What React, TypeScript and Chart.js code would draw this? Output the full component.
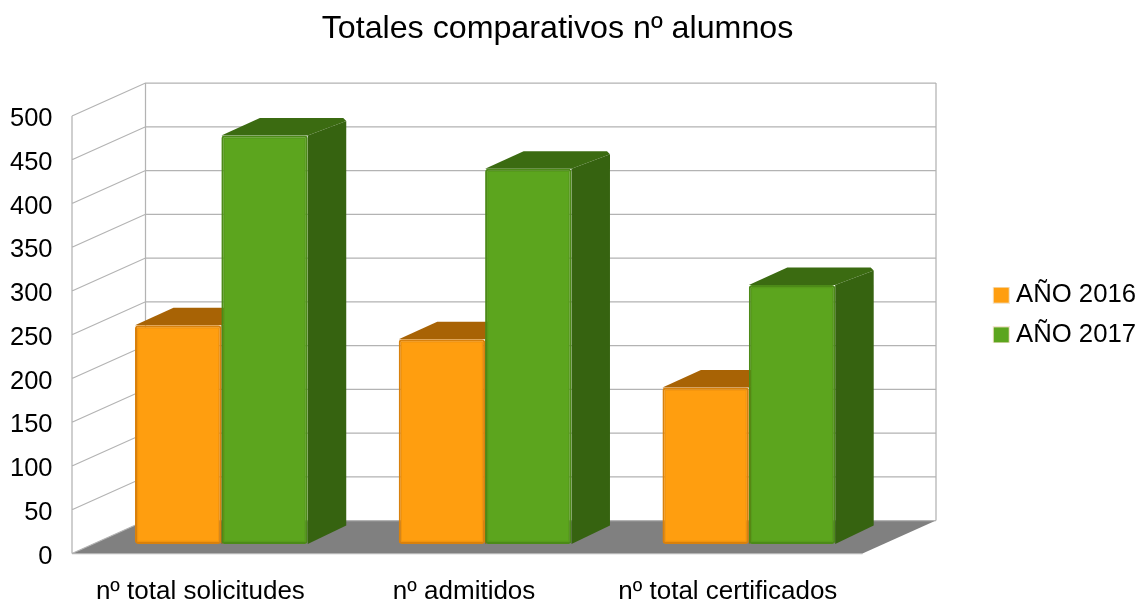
import React, { useEffect, useRef } from "react";
import { Chart, registerables } from "chart.js";

Chart.register(...registerables);

const categories = ["nº total solicitudes", "nº admitidos", "nº total certificados"];
const seriesNames = ["AÑO 2016", "AÑO 2017"];
const values2016 = [250, 234, 179];
const values2017 = [467, 429, 296];
const frontColors = ["#ff9e0f", "#5ca51e"];
const edgeColors = ["#d9810c", "#4c8a18"];
const topColors = ["#a86305", "#3b6b11"];
const sideColors = ["#a05e05", "#366310"];
const FONT = "'Liberation Sans', Arial, sans-serif";

const DEPTH_X = 73.5;
const DEPTH_Y = -33;
const BAR_SHIFT_X = 24;
const BAR_SHIFT_Y = -9.5;
const BAR_DEPTH_X = 38.5;
const BAR_DEPTH_Y = -17.5;
const WALL_LEFT = 72;
const WALL_RIGHT = 862.5;

function swatch(color: string) {
  const c = document.createElement("canvas");
  c.width = 21;
  c.height = 17;
  const g = c.getContext("2d")!;
  g.fillStyle = "#f4e6d0";
  g.fillRect(4, 0, 17, 17);
  g.fillStyle = color;
  g.fillRect(5, 1, 15, 15);
  return c;
}

function poly(ctx: CanvasRenderingContext2D, pts: number[][], fill: string) {
  ctx.beginPath();
  pts.forEach(([x, y], i) => (i ? ctx.lineTo(x, y) : ctx.moveTo(x, y)));
  ctx.closePath();
  ctx.fillStyle = fill;
  ctx.fill();
}

const scene3d = {
  id: "scene3d",
  beforeDatasetsDraw(chart: any) {
    const ctx: CanvasRenderingContext2D = chart.ctx;
    const y = chart.scales.y;
    const y0 = y.getPixelForValue(0);
    ctx.save();
    // floor
    poly(
      ctx,
      [
        [WALL_LEFT, y0],
        [WALL_RIGHT, y0],
        [WALL_RIGHT + DEPTH_X, y0 + DEPTH_Y],
        [WALL_LEFT + DEPTH_X, y0 + DEPTH_Y],
      ],
      "#808080"
    );
    // walls
    ctx.strokeStyle = "#b3b3b3";
    ctx.lineWidth = 1.25;
    ctx.beginPath();
    y.ticks.forEach((t: any) => {
      const py = y.getPixelForValue(t.value);
      ctx.moveTo(WALL_LEFT, py);
      ctx.lineTo(WALL_LEFT + DEPTH_X, py + DEPTH_Y);
      ctx.lineTo(WALL_RIGHT + DEPTH_X, py + DEPTH_Y);
    });
    const top = y.getPixelForValue(500);
    ctx.moveTo(WALL_LEFT, y0);
    ctx.lineTo(WALL_LEFT, top);
    ctx.moveTo(WALL_LEFT + DEPTH_X, y0 + DEPTH_Y);
    ctx.lineTo(WALL_LEFT + DEPTH_X, top + DEPTH_Y);
    ctx.moveTo(WALL_RIGHT + DEPTH_X, y0 + DEPTH_Y);
    ctx.lineTo(WALL_RIGHT + DEPTH_X, top + DEPTH_Y);
    ctx.moveTo(WALL_LEFT, y0);
    ctx.lineTo(WALL_RIGHT, y0);
    ctx.stroke();
    // bar depth faces
    [0, 1].forEach((d) => {
      chart.getDatasetMeta(d).data.forEach((bar: any) => {
        const hw = bar.width / 2;
        const l = bar.x - hw + BAR_SHIFT_X;
        const r = bar.x + hw + BAR_SHIFT_X;
        const t = bar.y + BAR_SHIFT_Y;
        const b = bar.base + BAR_SHIFT_Y;
        poly(
          ctx,
          [
            [l, t],
            [l + BAR_DEPTH_X, t + BAR_DEPTH_Y],
            [r + BAR_DEPTH_X - 3, t + BAR_DEPTH_Y],
            [r + BAR_DEPTH_X, t + BAR_DEPTH_Y + 3],
            [r, t],
          ],
          topColors[d]
        );
        poly(
          ctx,
          [
            [r, t],
            [r + BAR_DEPTH_X, t + BAR_DEPTH_Y + 3],
            [r + BAR_DEPTH_X, b + BAR_DEPTH_Y - 1],
            [r, b],
          ],
          sideColors[d]
        );
      });
    });
    ctx.restore();
  },
  beforeDatasetDraw(chart: any) {
    chart.ctx.save();
    chart.ctx.translate(BAR_SHIFT_X, BAR_SHIFT_Y);
  },
  afterDatasetDraw(chart: any, args: any) {
    const ctx: CanvasRenderingContext2D = chart.ctx;
    // soft bevel just inside the front face
    ctx.strokeStyle = edgeColors[args.index];
    ctx.globalAlpha = 0.35;
    ctx.lineWidth = 1.5;
    args.meta.data.forEach((bar: any) => {
      const hw = bar.width / 2;
      ctx.strokeRect(bar.x - hw + 2.5, bar.y + 2.5, bar.width - 5, bar.base - bar.y - 5);
    });
    ctx.globalAlpha = 1;
    ctx.restore();
  },
};

export default function App() {
  const ref = useRef<HTMLCanvasElement>(null);
  useEffect(() => {
    const make = (label: string, data: number[], i: number) => ({
      label,
      data,
      backgroundColor: frontColors[i],
      borderColor: edgeColors[i],
      borderWidth: 2,
      borderRadius: 3,
      borderSkipped: false,
      categoryPercentage: 0.655,
      barPercentage: 1,
      clip: false,
    });
    const chart = new Chart(ref.current!, {
      type: "bar",
      data: {
        labels: categories,
        datasets: [make(seriesNames[0], values2016, 0), make(seriesNames[1], values2017, 1)],
      },
      plugins: [scene3d],
      options: {
        responsive: false,
        animation: false,
        layout: { padding: { top: 0, right: 2, bottom: -25, left: -31 } },
        plugins: {
          tooltip: { enabled: false },
          title: {
            display: true,
            text: "Totales comparativos nº alumnos",
            color: "#000",
            font: { family: FONT, size: 32.2, weight: "normal" },
            padding: { top: 10, bottom: 67.4 },
          },
          legend: {
            position: "right",
            labels: {
              color: "#000",
              font: { family: FONT, size: 25.7 },
              usePointStyle: true,
              pointStyleWidth: 8,
              boxHeight: 16,
              padding: 14,
              generateLabels: () =>
                seriesNames.map((text, i) => ({
                  text,
                  datasetIndex: i,
                  fillStyle: frontColors[i],
                  strokeStyle: frontColors[i],
                  lineWidth: 0,
                  pointStyle: swatch(frontColors[i]),
                  fontColor: "#000",
                })),
            },
          },
        },
        scales: {
          x: {
            grid: { display: false },
            border: { display: false },
            ticks: {
              color: "#000",
              font: { family: FONT, size: 26 },
              padding: 15,
              labelOffset: 3,
              maxRotation: 0,
              minRotation: 0,
              autoSkip: false,
            },
            afterFit: (s: any) => {
              s.height = 76.5;
            },
          },
          y: {
            min: 0,
            max: 500,
            grid: { display: false },
            border: { display: false },
            ticks: {
              stepSize: 50,
              color: "#000",
              font: { family: FONT, size: 25.5 },
              padding: 5,
              labelOffset: 3,
            },
            afterFit: (s: any) => {
              s.width = 96.5;
            },
          },
          spacer: {
            type: "linear",
            position: "right",
            display: true,
            grid: { display: false },
            border: { display: false },
            ticks: { display: false },
            afterFit: (s: any) => {
              s.width = 124.5;
            },
          },
        },
      },
    } as any);
    return () => chart.destroy();
  }, []);
  return (
    <canvas
      ref={ref}
      width={1148}
      height={605}
      style={{ position: "fixed", left: 0, top: 0, display: "block", width: 1148, height: 605 }}
    />
  );
}
